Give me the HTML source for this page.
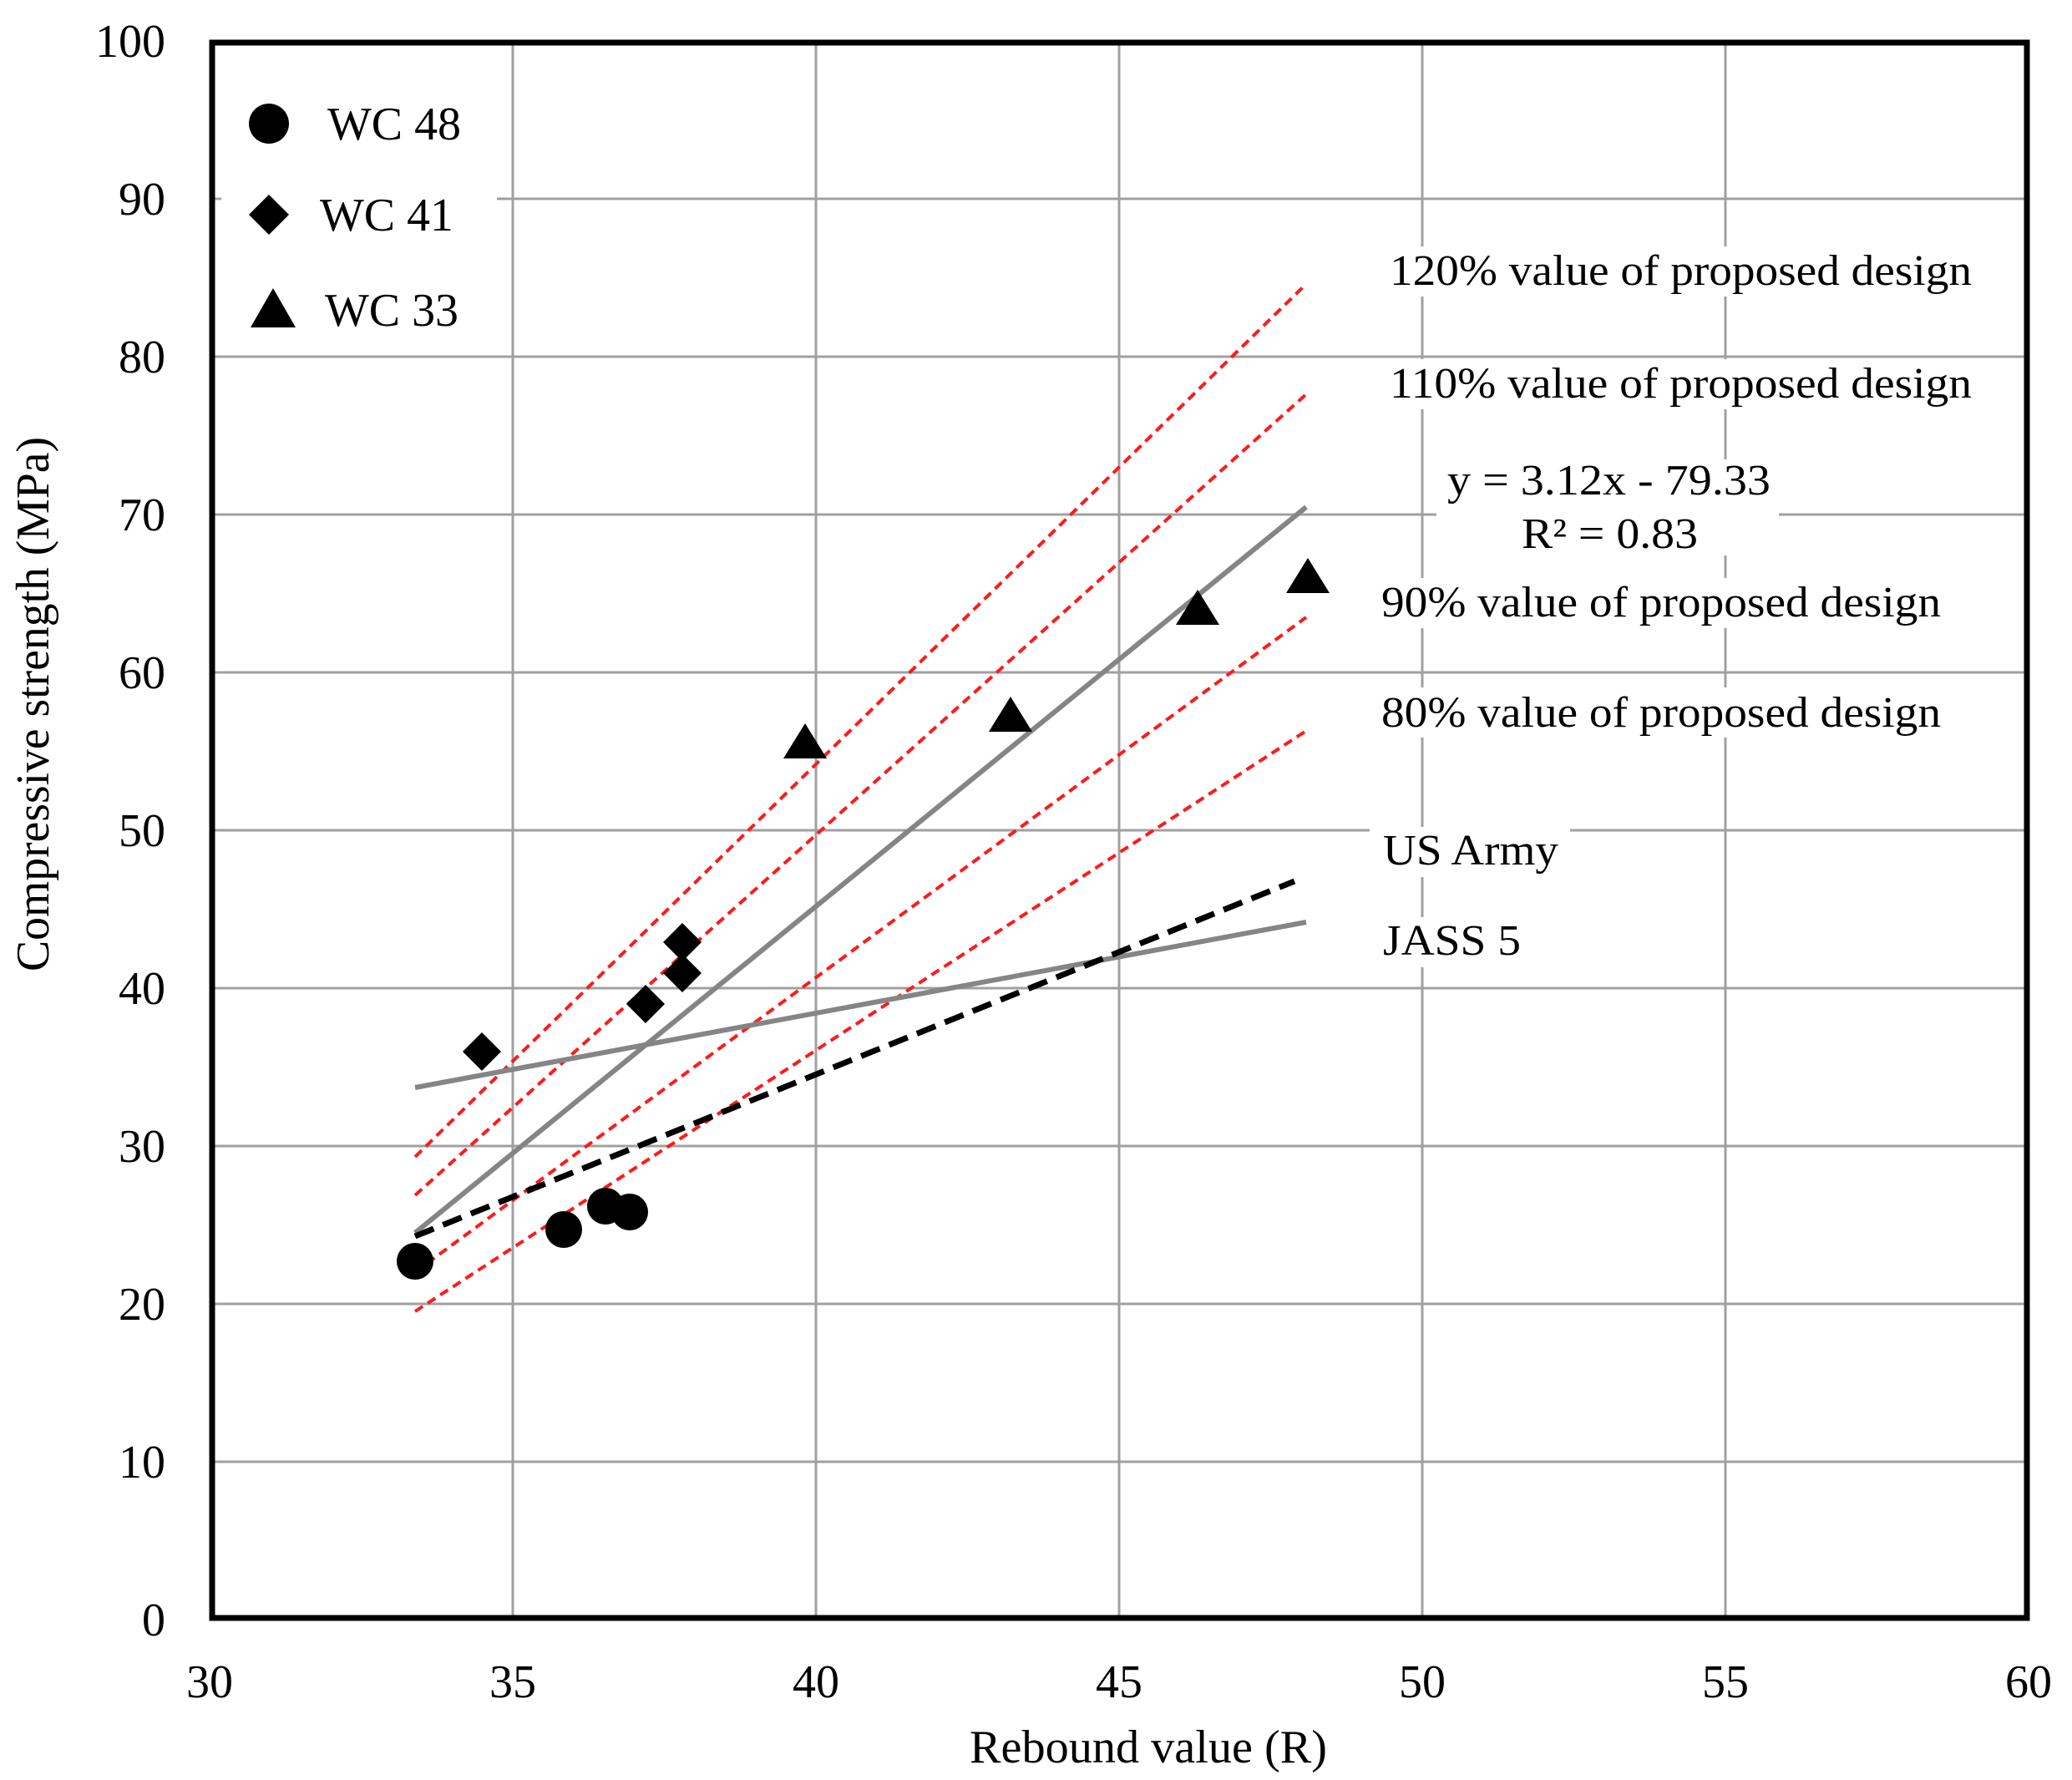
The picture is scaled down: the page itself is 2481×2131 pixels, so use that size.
<!DOCTYPE html>
<html><head><meta charset="utf-8"><style>html,body{margin:0;padding:0;background:#fff}svg{display:block}</style></head>
<body>
<svg xmlns="http://www.w3.org/2000/svg" width="2481" height="2131" viewBox="0 0 2481 2131" font-family="'Liberation Serif', serif" fill="#000">
<rect width="2481" height="2131" fill="#fff"/>
<g stroke="#a0a0a0" stroke-width="3">
<line x1="614" y1="49" x2="614" y2="1939"/><line x1="977" y1="49" x2="977" y2="1939"/><line x1="1340" y1="49" x2="1340" y2="1939"/><line x1="1703" y1="49" x2="1703" y2="1939"/><line x1="2066" y1="49" x2="2066" y2="1939"/>
<line x1="251" y1="238" x2="2429" y2="238"/><line x1="251" y1="427" x2="2429" y2="427"/><line x1="251" y1="616" x2="2429" y2="616"/><line x1="251" y1="805" x2="2429" y2="805"/><line x1="251" y1="994" x2="2429" y2="994"/><line x1="251" y1="1183" x2="2429" y2="1183"/><line x1="251" y1="1372" x2="2429" y2="1372"/><line x1="251" y1="1561" x2="2429" y2="1561"/><line x1="251" y1="1750" x2="2429" y2="1750"/>
</g>
<g fill="#fff">
<rect x="265" y="100" width="330" height="320"/>
<rect x="1650" y="295" width="720" height="60"/>
<rect x="1650" y="430" width="720" height="60"/>
<rect x="1720" y="550" width="410" height="115"/>
<rect x="1640" y="692" width="700" height="60"/>
<rect x="1640" y="823" width="700" height="60"/>
<rect x="1640" y="990" width="240" height="60"/>
<rect x="1640" y="1098" width="190" height="60"/>
</g>
<g stroke="#ff1a1a" stroke-width="4" stroke-dasharray="11,7" fill="none">
<line x1="497" y1="1385" x2="1564" y2="340"/>
<line x1="497" y1="1431" x2="1564" y2="472"/>
<line x1="497" y1="1523" x2="1564" y2="739"/>
<line x1="497" y1="1570" x2="1564" y2="875"/>
</g>
<g stroke="#858585" stroke-width="6" fill="none">
<line x1="497" y1="1476" x2="1564" y2="607"/>
<line x1="497" y1="1302" x2="1564" y2="1104"/>
</g>
<line x1="497" y1="1480" x2="1550" y2="1055" stroke="#000" stroke-width="7" stroke-dasharray="24,12"/>
<g>
<circle cx="497" cy="1510" r="22"/><circle cx="675" cy="1472" r="22"/><circle cx="725" cy="1444" r="22"/><circle cx="754" cy="1451" r="22"/>
<polygon points="577,1236 600,1259 577,1282 554,1259"/>
<polygon points="773,1179 796,1202 773,1225 750,1202"/>
<polygon points="817,1142 840,1165 817,1188 794,1165"/>
<polygon points="817,1105 840,1128 817,1151 794,1128"/>
<polygon points="964,866 990,908 938,908"/>
<polygon points="1210,834 1236,876 1184,876"/>
<polygon points="1434,706 1460,748 1408,748"/>
<polygon points="1566,668 1592,710 1540,710"/>
</g>
<rect x="254" y="51" width="2173" height="1886" fill="none" stroke="#000" stroke-width="7"/>
<circle cx="322" cy="148" r="24"/>
<polygon points="322,233 346,257 322,281 298,257"/>
<polygon points="327,345 354,392 300,392"/>
<g font-size="56">
<text x="392" y="167" textLength="160" lengthAdjust="spacingAndGlyphs">WC 48</text>
<text x="383" y="276" textLength="160" lengthAdjust="spacingAndGlyphs">WC 41</text>
<text x="389" y="390" textLength="160" lengthAdjust="spacingAndGlyphs">WC 33</text>
</g>
<g font-size="52">
<text x="1664" y="341" textLength="697" lengthAdjust="spacingAndGlyphs">120% value of proposed design</text>
<text x="1664" y="476" textLength="697" lengthAdjust="spacingAndGlyphs">110% value of proposed design</text>
<text x="1733" y="592" textLength="387" lengthAdjust="spacingAndGlyphs">y = 3.12x - 79.33</text>
<text x="1822" y="656" textLength="211" lengthAdjust="spacingAndGlyphs">R² = 0.83</text>
<text x="1654" y="738" textLength="670" lengthAdjust="spacingAndGlyphs">90% value of proposed design</text>
<text x="1654" y="870" textLength="670" lengthAdjust="spacingAndGlyphs">80% value of proposed design</text>
<text x="1656" y="1035" textLength="210" lengthAdjust="spacingAndGlyphs">US Army</text>
<text x="1656" y="1143" textLength="165" lengthAdjust="spacingAndGlyphs">JASS  5</text>
</g>
<g font-size="56" text-anchor="end">
<text x="198" y="68">100</text><text x="198" y="257">90</text><text x="198" y="446">80</text><text x="198" y="635">70</text><text x="198" y="824">60</text><text x="198" y="1013">50</text><text x="198" y="1202">40</text><text x="198" y="1391">30</text><text x="198" y="1580">20</text><text x="198" y="1769">10</text><text x="198" y="1958">0</text>
</g>
<g font-size="56" text-anchor="middle">
<text x="251" y="2032">30</text><text x="614" y="2032">35</text><text x="977" y="2032">40</text><text x="1340" y="2032">45</text><text x="1703" y="2032">50</text><text x="2066" y="2032">55</text><text x="2429" y="2032">60</text>
<text x="1375" y="2110" textLength="428" lengthAdjust="spacingAndGlyphs">Rebound value (R)</text>
<text transform="translate(58,843) rotate(-90)" textLength="640" lengthAdjust="spacingAndGlyphs">Compressive strength (MPa)</text>
</g>
</svg>
</body></html>
